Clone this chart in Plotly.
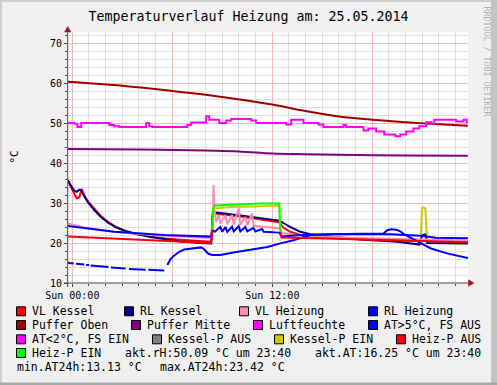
import plotly.graph_objects as go
import pandas as pd

# ---------------- data (times HH:MM relative to 25.05.2014 00:00) ----------------
TITLE = "Temperaturverlauf Heizung am: 25.05.2014"
DAY = "2014-05-25"

vl_kessel_t = ["-00:16", "-00:07", "00:00", "00:09", "00:16", "00:25", "00:31", "00:36", "00:45", "00:58",
               "01:19", "01:41", "02:10", "02:38", "03:11", "03:47", "04:41", "05:35", "06:29", "07:41",
               "08:20", "08:26", "08:38", "10:05", "11:17", "12:25", "12:40", "13:05", "13:41", "14:35",
               "16:41", "19:41", "23:44"]
vl_kessel_v = [35.5, 34.2, 33.5, 32.2, 31.2, 31.4, 32.8, 33.2, 31.6, 30.3,
               28.5, 26.9, 25.2, 24.0, 23.0, 22.3, 21.6, 21.1, 20.8, 20.5,
               20.3, 27.3, 27.3, 26.6, 25.9, 25.2, 23.8, 22.8, 22.0, 21.5,
               21.0, 20.6, 20.2]

rl_kessel_t = ["-00:16", "-00:07", "00:00", "00:09", "00:16", "00:25", "00:31", "00:36", "00:45", "00:58",
               "01:19", "01:41", "02:10", "02:38", "03:11", "03:47", "04:41", "05:35", "06:29", "07:41",
               "08:20", "08:26", "08:38", "10:05", "11:17", "12:25", "12:40", "13:05", "13:41", "14:17",
               "15:29", "17:31", "19:31", "20:50", "20:59", "21:12", "21:18", "23:44"]
rl_kessel_v = [35.7, 34.5, 33.8, 33.0, 32.8, 33.3, 33.3, 32.5, 31.5, 30.0,
               28.2, 26.6, 25.0, 23.9, 23.0, 22.3, 21.5, 20.9, 20.4, 20.0,
               19.9, 27.8, 27.6, 26.9, 26.2, 25.6, 25.0, 24.0, 22.8, 22.2,
               21.6, 20.8, 20.3, 19.6, 22.0, 22.2, 20.0, 19.9]

vl_heiz_t = ["-00:16", "00:43", "02:31", "04:41", "07:41", "08:20", "08:26", "08:28", "08:33", "08:38",
             "08:47", "08:53", "09:11", "09:18", "09:35", "09:41", "09:59", "10:05", "10:23", "10:30",
             "10:47", "10:53", "11:35", "12:25", "12:36", "13:41", "16:41", "20:53", "23:44"]
vl_heiz_v = [24.9, 23.9, 22.8, 22.0, 21.4, 21.2, 24.0, 34.5, 27.5, 25.2,
             27.0, 24.8, 27.0, 24.7, 27.0, 24.6, 28.7, 24.5, 26.5, 24.4,
             27.4, 24.3, 24.0, 23.7, 22.5, 21.9, 21.3, 20.9, 20.6]

rl_heiz_t = ["-00:16", "00:43", "02:31", "05:31", "07:44", "08:20", "08:26", "08:33", "08:53", "09:00",
             "09:11", "09:18", "09:35", "09:41", "09:59", "10:05", "10:23", "10:30", "10:52", "10:59",
             "11:23", "11:29", "12:25", "12:34", "13:41", "15:29", "19:07", "20:55", "21:49", "23:44"]
rl_heiz_v = [24.25, 23.7, 22.8, 22.0, 21.75, 21.6, 23.2, 22.8, 24.0, 22.8,
             24.0, 22.8, 24.1, 22.9, 24.2, 22.9, 24.0, 22.9, 23.8, 22.9,
             23.5, 22.8, 22.6, 21.6, 22.0, 22.2, 22.2, 21.8, 21.3, 21.2]

puffer_oben_t = ["-00:16", "03:00", "06:00", "09:00", "12:00", "14:00", "16:00", "18:00", "20:00", "22:00", "23:44"]
puffer_oben_v = [60.3, 59.3, 58.0, 56.5, 54.6, 53.0, 51.6, 50.8, 50.2, 49.7, 49.3]

puffer_mitte_t = ["-00:16", "04:00", "08:00", "10:00", "12:00", "14:00", "17:00", "20:00", "23:44"]
puffer_mitte_v = [43.5, 43.4, 43.1, 42.9, 42.4, 42.2, 42.0, 41.9, 41.8]

luft_t = ["-00:16", "00:07", "00:18", "00:32", "02:13", "02:31", "02:49", "04:26", "04:37", "04:48",
          "06:54", "07:08", "08:02", "08:13", "08:49", "09:14", "09:32", "10:44", "11:02", "12:50",
          "13:08", "13:52", "14:46", "15:04", "16:16", "16:26", "17:28", "17:46", "18:14", "18:43",
          "19:23", "19:41", "20:02", "20:28", "20:49", "21:14", "21:32", "21:43", "23:02", "23:28", "23:40", "23:44"]
luft_v = [50.0, 49.8, 49.0, 50.0, 49.5, 49.2, 49.0, 50.0, 49.2, 49.0,
          49.5, 50.1, 51.7, 50.8, 50.0, 50.6, 51.0, 50.6, 50.0, 49.6,
          50.8, 50.0, 49.6, 49.0, 49.5, 49.0, 48.1, 48.6, 47.9, 47.1,
          46.7, 47.1, 47.9, 48.6, 49.2, 50.2, 49.8, 50.8, 50.4, 50.8, 50.1, 50.1]

at_t = ["-00:16", "-00:12", "00:05", "00:09", "00:13", "00:43", "00:46", "00:50", "01:01", "01:03",
        "01:06", "02:10", "02:14", "02:19", "03:12", "03:18", "03:24", "04:24", "04:29", "04:34",
        "05:31", "05:37", "05:42", "05:53", "06:05", "06:25", "06:43", "07:19", "07:43", "07:52",
        "07:59", "08:10", "08:24", "08:53", "09:40", "10:41", "11:42", "12:29", "13:16", "14:17",
        "15:29", "17:17", "18:40", "18:54", "19:08", "19:26", "19:41", "19:59", "20:35", "20:59",
        "21:29", "22:29", "23:42", "23:44"]
at_v = [15.1, 15.0, 14.9, None, 14.8, 14.6, None, 14.5, 14.5, None,
        14.4, 14.0, None, 13.9, 13.6, None, 13.5, 13.3, None, 13.3,
        13.13, None, 14.5, 15.9, 16.75, 17.8, 18.4, 18.8, 18.9, 18.6,
        18.0, 17.3, 17.0, 17.0, 17.6, 18.3, 19.0, 19.9, 20.7, 22.0,
        22.2, 22.3, 22.4, 23.2, 23.42, 23.3, 22.9, 22.0, 20.75, 19.9,
        18.7, 17.4, 16.25, 16.25]

kessel_p_ein_t = ["08:24", "08:28", "09:35", "11:00", "12:25", "12:29", "12:31",
                  "20:50", "20:55", "20:59", "21:04", "21:11", "21:16", "21:22"]
kessel_p_ein_v = [23.3, 28.6, 29.0, 29.1, 29.4, 22.8, None,
                  22.2, 22.3, 28.7, 28.9, 28.6, 22.4, 22.3]

heiz_p_aus_t = ["-00:16", "07:44", "08:20", "08:24", "08:26", "12:29", "12:33", "14:35", "17:31", "20:53", "23:44"]
heiz_p_aus_v = [21.6, 20.1, 20.0, 23.5, None, 22.8, 21.4, 21.2, 20.8, 20.5, 20.2]

heiz_p_ein_t = ["08:24", "08:28", "08:33", "09:11", "10:05", "11:17", "12:25", "12:29"]
heiz_p_ein_v = [23.3, 28.8, 29.4, 29.5, 29.8, 29.9, 29.9, 22.8]

legend_names = ["VL Kessel", "RL Kessel", "VL Heizung", "RL Heizung",
                "Puffer Oben", "Puffer Mitte", "Luftfeuchte", "AT>5°C, FS AUS",
                "AT<2°C, FS EIN", "Kessel-P AUS", "Kessel-P EIN", "Heiz-P AUS",
                "Heiz-P EIN"]
legend_colors = ["#FF0000", "#000080", "#FF8AB0", "#0000FF",
                 "#A00000", "#800080", "#FF00FF", "#0000FF",
                 "#FF00FF", "#808080", "#CCCC00", "#FF0000",
                 "#00FF00"]

AKT_RH = 50.09
AKT_AT = 16.25
MIN_AT = 13.13
MAX_AT = 23.42
AKT_TIME = "23:40"

y_ticks = [10, 20, 30, 40, 50, 60, 70]
x_tick_times = ["00:00", "06:00", "12:00", "18:00"]
x_tick_text = ["Sun 00:00", "", "Sun 12:00", ""]

# ---------------- helpers ----------------
def T(lst):
    base = pd.Timestamp(DAY)
    return [(base + pd.to_timedelta(s + ":00")).strftime("%Y-%m-%d %H:%M:%S") for s in lst]

W, H = 497, 385
L, R, TOP, BOT = 68, 468, 32, 283


def px(x):
    return (x - L) / (R - L)


def py(y):
    return (BOT - y) / (BOT - TOP)


MONO = "DejaVu Sans Mono"

fig = go.Figure()

series = [
    (vl_kessel_t, vl_kessel_v, legend_colors[0], "linear"),
    (rl_kessel_t, rl_kessel_v, legend_colors[1], "linear"),
    (vl_heiz_t, vl_heiz_v, legend_colors[2], "linear"),
    (rl_heiz_t, rl_heiz_v, legend_colors[3], "linear"),
    (puffer_oben_t, puffer_oben_v, legend_colors[4], "spline"),
    (puffer_mitte_t, puffer_mitte_v, legend_colors[5], "spline"),
    (luft_t, luft_v, legend_colors[6], "hv"),
    (at_t, at_v, legend_colors[7], "linear"),
    (kessel_p_ein_t, kessel_p_ein_v, legend_colors[10], "linear"),
    (heiz_p_aus_t, heiz_p_aus_v, legend_colors[11], "linear"),
    (heiz_p_ein_t, heiz_p_ein_v, legend_colors[12], "linear"),
]
for t, v, c, shp in series:
    fig.add_trace(go.Scatter(x=T(t), y=v, mode="lines",
                             line=dict(color=c, width=2, shape=shp),
                             connectgaps=False, showlegend=False, hoverinfo="skip"))

GRID_MIN = "#E0E0E0"
GRID_MAJ = "#F6B8B8"
AXIS_COL = "#404848"

fig.update_layout(
    width=W, height=H,
    margin=dict(l=L, r=W - R, t=TOP, b=H - BOT),
    paper_bgcolor="#F0F0F0",
    plot_bgcolor="#FFFFFF",
    showlegend=False,
    font=dict(family=MONO, size=10, color="#000000"),
    title=dict(text=TITLE, x=0.5, xref="container", xanchor="center",
               y=1 - 16.5 / H, yref="container", yanchor="middle",
               font=dict(family=MONO, size=13.3, color="#000000")),
    xaxis=dict(
        type="date",
        range=["2014-05-24 23:44:30", "2014-05-25 23:44:30"],
        tickmode="array", tickvals=T(x_tick_times), ticktext=x_tick_text,
        showgrid=True, gridcolor=GRID_MAJ, gridwidth=1,
        ticks="outside", ticklen=3, tickcolor=AXIS_COL,
        zeroline=False, showline=False, automargin=False,
        tickfont=dict(family=MONO, size=10),
        minor=dict(tickmode="linear", tick0=T(["00:00"])[0], dtick=3600000,
                   showgrid=True, gridcolor=GRID_MIN, ticks="outside", ticklen=2, tickcolor=AXIS_COL),
        fixedrange=True,
    ),
    yaxis=dict(
        range=[10, 72.75],
        tickmode="array", tickvals=y_ticks,
        showgrid=True, gridcolor=GRID_MAJ, gridwidth=1,
        ticks="outside", ticklen=3, tickcolor=AXIS_COL,
        zeroline=False, showline=False, automargin=False,
        tickfont=dict(family=MONO, size=10),
        minor=dict(tickmode="linear", tick0=10, dtick=2,
                   showgrid=True, gridcolor=GRID_MIN, ticks="outside", ticklen=2, tickcolor=AXIS_COL),
        fixedrange=True,
    ),
)

shapes = []
# axis lines
shapes.append(dict(type="line", xref="paper", yref="paper",
                   x0=px(67.7), x1=px(67.7), y0=py(287), y1=py(30),
                   line=dict(color=AXIS_COL, width=1)))
shapes.append(dict(type="line", xref="paper", yref="paper",
                   x0=px(64), x1=px(470), y0=py(283), y1=py(283),
                   line=dict(color=AXIS_COL, width=1)))
# arrows
ARROW = "#A01818"
shapes.append(dict(type="path", xref="paper", yref="paper",
                   path=f"M {px(67.7)} {py(26.5)} L {px(64.5)} {py(32)} L {px(71)} {py(32)} Z",
                   fillcolor=ARROW, line=dict(color=ARROW, width=0.5)))
shapes.append(dict(type="path", xref="paper", yref="paper",
                   path=f"M {px(474)} {py(283)} L {px(468.5)} {py(279.8)} L {px(468.5)} {py(286.2)} Z",
                   fillcolor=ARROW, line=dict(color=ARROW, width=0.5)))
# frame shading
shapes.append(dict(type="rect", xref="paper", yref="paper", x0=px(0), x1=px(2), y0=py(0), y1=py(385),
                   fillcolor="#CFCFCF", line=dict(width=0), layer="below"))
shapes.append(dict(type="rect", xref="paper", yref="paper", x0=px(0), x1=px(497), y0=py(0), y1=py(2),
                   fillcolor="#CFCFCF", line=dict(width=0), layer="below"))
shapes.append(dict(type="rect", xref="paper", yref="paper", x0=px(491), x1=px(497), y0=py(0), y1=py(385),
                   fillcolor="#C4C4C4", line=dict(width=0), layer="below"))
shapes.append(dict(type="rect", xref="paper", yref="paper", x0=px(0), x1=px(497), y0=py(382.5), y1=py(385),
                   fillcolor="#A8A8A8", line=dict(width=0), layer="below"))

annotations = []
# y axis title
annotations.append(dict(text="°C", x=px(14), y=py(157.5), xref="paper", yref="paper",
                        showarrow=False, textangle=-90, xanchor="center", yanchor="middle",
                        font=dict(family=MONO, size=11, color="#000000")))
# watermark
annotations.append(dict(text="RRDTOOL / TOBI OETIKER", x=px(486.5), y=py(62), xref="paper", yref="paper",
                        showarrow=False, textangle=90, xanchor="center", yanchor="middle",
                        font=dict(family=MONO, size=8.3, color="#B0B0B0")))

# legend layout (pixel positions of boxes per row)
LEG_FONT = 11.5
rows = [
    (311.3, [0, 1, 2, 3], [16, 124, 239, 368]),
    (325.0, [4, 5, 6, 7], [16, 131, 253, 368]),
    (339.3, [8, 9, 10, 11], [16, 152, 274, 396]),
    (353.0, [12], [16]),
]
for yc, idxs, xs in rows:
    for i, x0 in zip(idxs, xs):
        shapes.append(dict(type="rect", xref="paper", yref="paper",
                           x0=px(x0 + 0.5), x1=px(x0 + 9.5), y0=py(yc - 4.5), y1=py(yc + 4.5),
                           fillcolor=legend_colors[i], line=dict(color="#000000", width=1)))
        annotations.append(dict(text=legend_names[i], x=px(x0 + 14), y=py(yc), xref="paper", yref="paper",
                                showarrow=False, xanchor="left", yanchor="middle",
                                font=dict(family=MONO, size=LEG_FONT, color="#000000")))

comments = [
    (f"akt.rH:{AKT_RH:.2f} °C um {AKT_TIME}", 123, 353.0),
    (f"akt.AT:{AKT_AT:.2f} °C um {AKT_TIME}", 313, 353.0),
    (f"min.AT24h:{MIN_AT:.2f} °C", 15, 367.3),
    (f"max.AT24h:{MAX_AT:.2f} °C", 158, 367.3),
]
for txt, x0, yc in comments:
    annotations.append(dict(text=txt, x=px(x0), y=py(yc), xref="paper", yref="paper",
                            showarrow=False, xanchor="left", yanchor="middle",
                            font=dict(family=MONO, size=LEG_FONT, color="#000000")))

fig.update_layout(shapes=shapes, annotations=annotations)

fig.write_html("out.html", config={"displayModeBar": False},
               post_script="document.body.style.margin='0px';document.body.style.padding='0px';")
